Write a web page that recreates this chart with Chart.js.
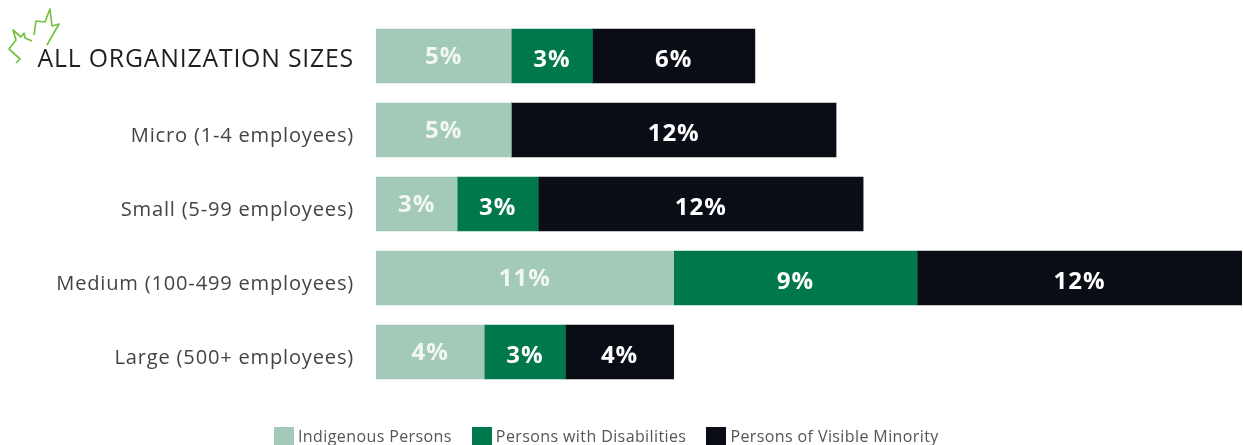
<!DOCTYPE html>
<html>
<head>
<meta charset="utf-8">
<style>
html, body { margin: 0; padding: 0; background: #fff; overflow: hidden; }
#wrap { position: relative; width: 1243px; height: 445px; overflow: hidden; }
#leaf { position: absolute; left: 0; top: 0; }
#legend { position: absolute; left: 274px; top: 427px; display: flex; gap: 20px; font: 16px "Open Sans", sans-serif; letter-spacing: 0.4px; color: #555; line-height: 18px; white-space: nowrap; }
#legend span { display: flex; gap: 4px; }
#legend i { display: block; width: 20px; height: 18px; }
</style>
<script src="https://cdn.jsdelivr.net/npm/chart.js@4"></script>
</head>
<body>
<div id="wrap">
  <canvas id="sizes" width="1243" height="445"></canvas>
  <svg id="leaf" width="70" height="70" fill="none" stroke="#76c043" stroke-width="1.7" stroke-linejoin="round">
    <path d="M47 45 L59 24 L52 26 L50 9 L45 22 L36 21 L34 35"/>
    <path d="M32 41 L25 38 L24 33 L21 37 L13 30 L16 40 L9 49 L20 59 L16 63"/>
  </svg>
  <div id="legend"></div>
</div>
<script>
const categories = ['ALL ORGANIZATION SIZES', 'Micro (1-4 employees)', 'Small (5-99 employees)', 'Medium (100-499 employees)', 'Large (500+ employees)'];
const indigenous = [5, 5, 3, 11, 4];
const disabilities = [3, 0, 3, 9, 3];
const visibleMinority = [6, 12, 12, 12, 4];

const FONT = '"Open Sans", sans-serif';

// prints the percent in the middle of each segment
const segmentLabels = {
    id: 'segmentLabels',
    afterDatasetsDraw(chart) {
        const ctx = chart.ctx;
        ctx.save();
        ctx.font = `700 24px ${FONT}`;
        ctx.letterSpacing = '1px';
        ctx.textAlign = 'center';
        ctx.textBaseline = 'middle';
        chart.data.datasets.forEach((ds, d) => {
            ctx.fillStyle = d === 0 ? '#f2f7f4' : '#ffffff';
            chart.getDatasetMeta(d).data.forEach((bar, i) => {
                if (!ds.data[i]) return;
                const lift = d === 0 ? 1 : 4;
                ctx.fillText(ds.data[i] + '%', (bar.x + bar.base) / 2, bar.y + lift);
            });
        });
        ctx.restore();
    }
};

// tick text in the original is slightly tracked out, and the heading row sits a bit higher
const tracking = {
    id: 'tracking',
    beforeDraw(chart) {
        chart.ctx.letterSpacing = '0.8px';
        chart.scales.y.getLabelItems()[0].options.translation[1] -= 2;
    }
};

const chart = new Chart(document.getElementById('sizes'), {
    type: 'bar',
    data: {
        labels: categories,
        datasets: [
            { label: 'Indigenous Persons', data: indigenous, backgroundColor: '#a3c9b8' },
            { label: 'Persons with Disabilities', data: disabilities, backgroundColor: '#00784b' },
            { label: 'Persons of Visible Minority', data: visibleMinority, backgroundColor: '#0a0d16' }
        ]
    },
    options: {
        indexAxis: 'y',
        responsive: false,
        animation: false,
        layout: { autoPadding: false, padding: { top: 19, right: 1, bottom: 56, left: 0 } },
        datasets: { bar: { barThickness: 54, borderWidth: 0 } },
        scales: {
            x: { stacked: true, min: 0, max: 32, display: false },
            y: {
                stacked: true,
                border: { display: false },
                grid: { display: false, drawTicks: false },
                afterFit(scale) {
                    scale.width = 376;
                    // tick padding otherwise leaks into the plot's top and bottom
                    scale.paddingTop = 0;
                    scale.paddingBottom = 0;
                },
                ticks: {
                    padding: 22,
                    labelOffset: 6,
                    color: ctx => ctx.index === 0 ? '#231f20' : '#444444',
                    font: ctx => ({ family: FONT, size: ctx.index === 0 ? 24.8 : 20.1 })
                }
            }
        },
        plugins: {
            tooltip: { enabled: false },
            legend: { display: false }
        }
    },
    plugins: [tracking, segmentLabels]
});

// legend sits closer to its swatches than the built in one allows
const legendBox = document.getElementById('legend');
chart.data.datasets.forEach(ds => {
    const item = document.createElement('span');
    const swatch = document.createElement('i');
    swatch.style.background = ds.backgroundColor;
    item.append(swatch, ds.label);
    legendBox.append(item);
});
</script>
</body>
</html>
